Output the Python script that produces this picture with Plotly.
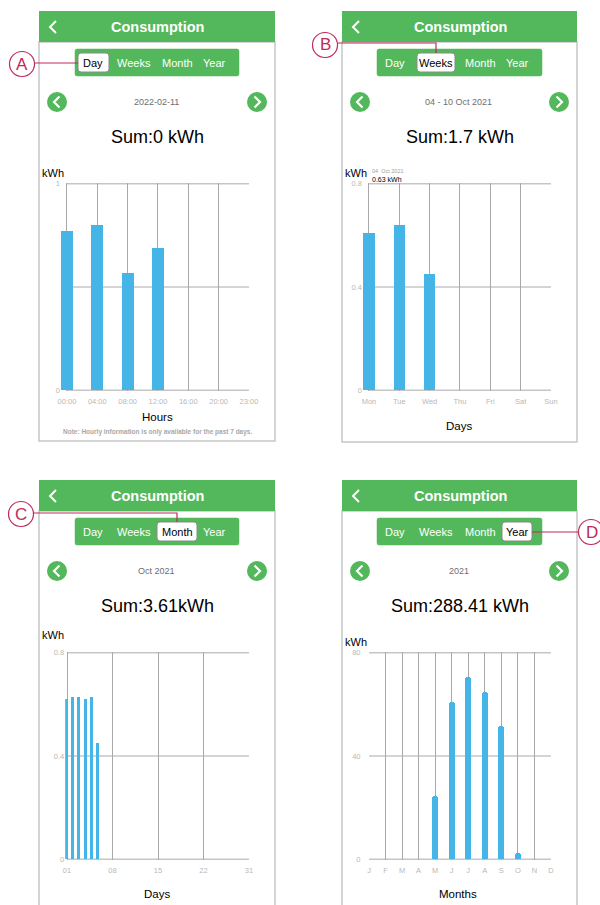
import numpy as np
import plotly.graph_objects as go

# ---------------- data ----------------
hour_labels = ["00:00", "04:00", "08:00", "12:00", "16:00", "20:00", "23:00"]
hour_values = [0.77, 0.80, 0.57, 0.69]
hour_yticks = [0, 0.5, 1]
hour_ytext = ["0", "", "1"]

week_labels = ["Mon", "Tue", "Wed", "Thu", "Fri", "Sat", "Sun"]
week_values = [0.61, 0.64, 0.45]
week_yticks = [0, 0.4, 0.8]
week_ytext = ["0", "0.4", "0.8"]

month_tick_labels = ["01", "08", "15", "22", "31"]
month_days = [1, 2, 3, 4, 5, 6]
month_values = [0.62, 0.63, 0.63, 0.62, 0.63, 0.45]
month_yticks = [0, 0.4, 0.8]
month_ytext = ["0", "0.4", "0.8"]

year_labels = ["J", "F", "M", "A", "M", "J", "J", "A", "S", "O", "N", "D"]
year_values = [0, 0, 0, 0, 24.5, 61, 70.5, 65, 51.5, 2.5]
year_yticks = [0, 40, 80]
year_ytext = ["0", "40", "80"]

# ---------------- style ----------------
W, H = 600, 905
FONT = "Liberation Sans, Arial, sans-serif"
GREEN = "#53B85B"
BLUE = "#45B4E6"
GRID = "#A9A9A9"
BORDER = "#C6C6C6"
TICK = "#B8B8B8"
CRIMSON = "#C02A5A"


def fx(x):
    return x / W


def fy(y):
    return 1 - y / H


shapes = []
annotations = []


def rect(x0, y0, x1, y1, fill=None, line=None, lw=1):
    shapes.append(dict(type="rect", xref="paper", yref="paper",
                       x0=fx(x0), x1=fx(x1), y0=fy(y1), y1=fy(y0),
                       fillcolor=fill if fill else "rgba(0,0,0,0)",
                       line=dict(color=line if line else "rgba(0,0,0,0)", width=lw if line else 0),
                       layer="below"))


def rounded_rect(x0, y0, x1, y1, r, fill, line, lw):
    path = (f"M {fx(x0 + r)},{fy(y0)} L {fx(x1 - r)},{fy(y0)} Q {fx(x1)},{fy(y0)} {fx(x1)},{fy(y0 + r)} "
            f"L {fx(x1)},{fy(y1 - r)} Q {fx(x1)},{fy(y1)} {fx(x1 - r)},{fy(y1)} "
            f"L {fx(x0 + r)},{fy(y1)} Q {fx(x0)},{fy(y1)} {fx(x0)},{fy(y1 - r)} "
            f"L {fx(x0)},{fy(y0 + r)} Q {fx(x0)},{fy(y0)} {fx(x0 + r)},{fy(y0)} Z")
    shapes.append(dict(type="path", xref="paper", yref="paper", path=path,
                       fillcolor=fill, line=dict(color=line, width=lw), layer="below"))


def circle(cx, cy, r, fill=None, line=None, lw=1):
    shapes.append(dict(type="circle", xref="paper", yref="paper",
                       x0=fx(cx - r), x1=fx(cx + r), y0=fy(cy + r), y1=fy(cy - r),
                       fillcolor=fill if fill else "rgba(0,0,0,0)",
                       line=dict(color=line if line else "rgba(0,0,0,0)", width=lw if line else 0),
                       layer="above"))


def polyline(pts, color, lw):
    path = "M " + " L ".join(f"{fx(x):.5f},{fy(y):.5f}" for x, y in pts)
    shapes.append(dict(type="path", xref="paper", yref="paper", path=path,
                       line=dict(color=color, width=lw), layer="above"))


def text(x, y, s, size, color="black", bold=False, xanchor="center", family=FONT):
    if bold:
        s = "<b>" + s + "</b>"
    annotations.append(dict(x=fx(x), y=fy(y), xref="paper", yref="paper", text=s,
                            showarrow=False, xanchor=xanchor, yanchor="middle",
                            font=dict(family=family, size=size, color=color)))


def phone(x0, x1, top, bottom, title, seg_x, seg_labels_x, sel_idx, sel_box, date, sumtxt):
    cx = (x0 + x1) / 2
    # body + header
    rect(x0, top + 31, x1, bottom, fill="white", line=BORDER, lw=1.5)
    rect(x0, top, x1, top + 31, fill=GREEN)
    text(cx + 1, top + 16, title, 14.5, "white", bold=True)
    polyline([(x0 + 17, top + 10), (x0 + 11, top + 16), (x0 + 17, top + 22)], "white", 2)
    # segmented control
    rounded_rect(seg_x[0], top + 38, seg_x[1], top + 65, 2, GREEN, GREEN, 0.5)
    rounded_rect(sel_box[0], top + 42, sel_box[1], top + 61, 3, "white", "#8A8A8A", 1)
    for i, (lab, lx) in enumerate(zip(["Day", "Weeks", "Month", "Year"], seg_labels_x)):
        text(lx, top + 52, lab, 11, "black" if i == sel_idx else "white")
    # navigation
    ny = top + 91
    for nx, d in ((x0 + 18, -1), (x1 - 18, 1)):
        circle(nx, ny, 10, fill=GREEN)
        polyline([(nx - 2.5 * d, ny - 5.5), (nx + 3 * d, ny), (nx - 2.5 * d, ny + 5.5)], "white", 2.2)
    text(cx - 1, ny, date, 9, "#6E6E6E")
    text(cx, top + 126, sumtxt, 18, "black")


phone(39, 275, 11, 441, "Consumption", (75, 239), [93, 134, 177, 214], 0, (78, 109),
      "2022-02-11", "Sum:0 kWh")
phone(342, 577, 11, 442, "Consumption", (377, 542), [395, 436, 480, 517], 1, (417, 455),
      "04 - 10 Oct 2021", "Sum:1.7 kWh")
phone(39, 275, 480, 912, "Consumption", (75, 239), [93, 134, 177, 214], 2, (157, 197),
      "Oct 2021", "Sum:3.61kWh")
phone(342, 577, 480, 912, "Consumption", (377, 542), [395, 436, 480, 517], 3, (502, 532),
      "2021", "Sum:288.41 kWh")

# callouts
circle(22, 64, 12.5, line=CRIMSON, lw=1.2)
text(22, 64, "A", 17, CRIMSON)
polyline([(34.5, 63), (78, 63)], CRIMSON, 1.2)

circle(325, 45, 12.5, line=CRIMSON, lw=1.2)
text(325, 45, "B", 17, CRIMSON)
polyline([(337.5, 43), (436, 43), (436, 53)], CRIMSON, 1.2)

circle(21, 514, 12.5, line=CRIMSON, lw=1.2)
text(21, 514, "C", 17, CRIMSON)
polyline([(33.5, 513), (177, 513), (177, 522)], CRIMSON, 1.2)

circle(591, 532, 12.5, line=CRIMSON, lw=1.2)
text(592, 532, "D", 17, CRIMSON, xanchor="center")
polyline([(532, 532), (578.5, 532)], CRIMSON, 1.2)

# axis titles and misc text
text(53, 173, "kWh", 11)
text(157, 417, "Hours", 11.5)
text(157, 432, "Note: Hourly information is only available for the past 7 days.", 6.5, "#A8A8A8", bold=True)
text(355.5, 173, "kWh", 11)
text(370, 171, "04  Oct 2021", 5.5, "#A0A0A0", xanchor="left")
text(370, 179, "0.63 kWh", 7, "black", xanchor="left")
text(459, 426, "Days", 11.5)
text(53, 635, "kWh", 11)
text(157, 894, "Days", 11.5)
text(356, 642, "kWh", 11)
text(458, 894, "Months", 11.5)

# ---------------- charts ----------------
fig = go.Figure()

tickfont = dict(family=FONT, size=7.5, color=TICK)


def dom_x(a, b):
    return [fx(a), fx(b)]


def dom_y(top, bottom):
    return [fy(bottom), fy(top)]


charts = [
    dict(n=1, x=list(range(len(hour_values))), y=hour_values, w=0.4,
         xr=[-0.2, len(hour_labels) - 1 + 0.02], tv=list(range(len(hour_labels))), tt=hour_labels,
         yt=hour_yticks, ytt=hour_ytext, dx=(60.9, 249.6), dy=(183, 391), cr=0, pad=0),
    dict(n=2, x=list(range(len(week_values))), y=week_values, w=0.37,
         xr=[-0.2, len(week_labels) - 1 + 0.02], tv=list(range(len(week_labels))), tt=week_labels,
         yt=week_yticks, ytt=week_ytext, dx=(362.9, 551.6), dy=(183, 391), cr=0, pad=0),
    dict(n=3, x=month_days, y=month_values, w=0.5,
         xr=[0.7, 31.1], tv=list(np.linspace(1, 31, len(month_tick_labels))), tt=month_tick_labels,
         yt=month_yticks, ytt=month_ytext, dx=(65.2, 249.6), dy=(652, 860), cr=0, pad=0),
    dict(n=4, x=list(range(len(year_values))), y=year_values, w=0.36,
         xr=[0, len(year_labels) - 1 + 0.04], tv=list(range(len(year_labels))), tt=year_labels,
         yt=year_yticks, ytt=year_ytext, dx=(369, 551.6), dy=(652, 860), cr=3, pad=6),
]

for c in charts:
    n = c["n"]
    sfx = "" if n == 1 else str(n)
    ymax = c["yt"][-1]
    yr = [-ymax * 0.004, ymax * 1.004]
    fig.add_trace(go.Bar(x=c["x"], y=c["y"], width=c["w"], marker=dict(color=BLUE, line=dict(width=0),
                                                                          cornerradius=c["cr"]),
                         xaxis="x" + sfx, yaxis="y" + sfx, hoverinfo="skip"))
    fig.layout["xaxis" + sfx] = dict(domain=dom_x(*c["dx"]), range=c["xr"], anchor="y" + sfx,
                                     tickmode="array", tickvals=c["tv"], ticktext=c["tt"],
                                     showgrid=True, gridcolor=GRID, gridwidth=1, zeroline=False,
                                     showline=False, ticks="outside", ticklen=3, automargin=False,
                                     tickcolor="rgba(0,0,0,0)", tickfont=tickfont, fixedrange=True)
    fig.layout["yaxis" + sfx] = dict(domain=dom_y(*c["dy"]), range=yr, anchor="x" + sfx,
                                     tickmode="array", tickvals=c["yt"], ticktext=c["ytt"],
                                     showgrid=False, zeroline=False, showline=False, automargin=False,
                                     ticks="outside" if c["pad"] else "", ticklen=max(c["pad"], 1),
                                     tickcolor="rgba(0,0,0,0)", tickfont=tickfont, fixedrange=True)
    x_first, x_last = c["tv"][0], c["tv"][-1]
    for yv in c["yt"]:
        shapes.append(dict(type="line", xref="x" + sfx, yref="y" + sfx,
                           x0=x_first, x1=x_last, y0=yv, y1=yv,
                           line=dict(color=GRID, width=1), layer="below"))

fig.update_layout(width=W, height=H, autosize=False,
                  margin=dict(l=0, r=0, t=0, b=0, pad=0, autoexpand=False),
                  paper_bgcolor="white", plot_bgcolor="rgba(0,0,0,0)",
                  showlegend=False, bargap=0, shapes=shapes, annotations=annotations,
                  font=dict(family=FONT))

fig.write_html("out.html", config={"displayModeBar": False, "responsive": False},
               post_script="document.body.style.margin='0';document.documentElement.style.overflow='hidden';")
